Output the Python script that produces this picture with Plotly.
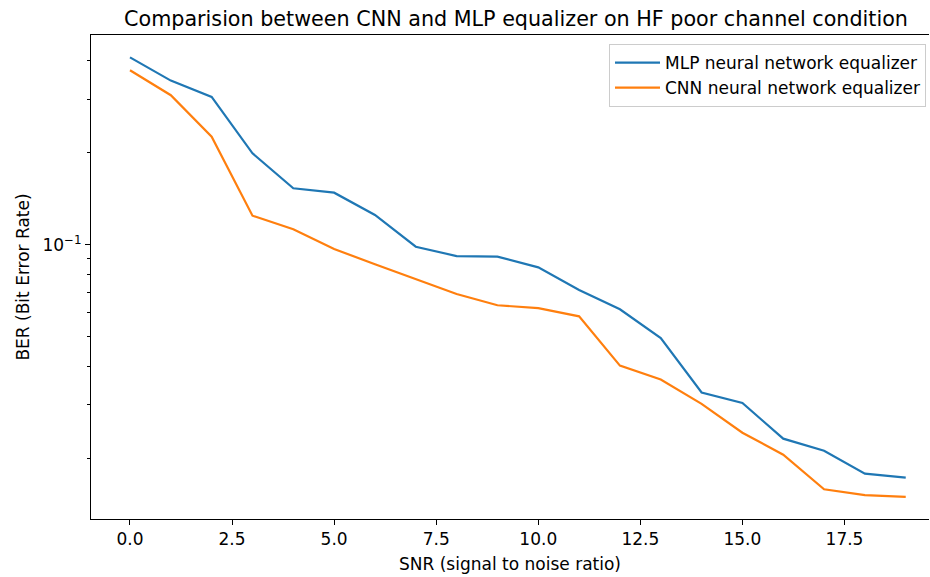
import plotly.graph_objects as go

snr = list(range(20))
mlp_ber = [0.411, 0.345, 0.305, 0.1995, 0.1533, 0.1483, 0.1254, 0.0987, 0.0920, 0.0916,
           0.0845, 0.0712, 0.0616, 0.0496, 0.0329, 0.0304, 0.02324, 0.02123, 0.01785, 0.01732]
cnn_ber = [0.373, 0.309, 0.2262, 0.1247, 0.1126, 0.0970, 0.0865, 0.0774, 0.0691, 0.0635,
           0.0621, 0.0584, 0.0403, 0.0363, 0.0302, 0.0243, 0.0206, 0.01587, 0.0152, 0.0150]

x_tickvals = [0, 2.5, 5, 7.5, 10, 12.5, 15, 17.5]
x_ticktext = ["0.0", "2.5", "5.0", "7.5", "10.0", "12.5", "15.0", "17.5"]
y_major = [0.1]
y_major_text = ["10<sup>\u22121</sup>"]
y_minor = [0.02, 0.03, 0.04, 0.05, 0.06, 0.07, 0.08, 0.09, 0.2, 0.3, 0.4]

FONT = "DejaVu Sans"

fig = go.Figure()
fig.add_trace(go.Scatter(x=snr, y=mlp_ber, mode="lines", name="MLP neural network equalizer",
                         line=dict(color="#1f77b4", width=2.2)))
fig.add_trace(go.Scatter(x=snr, y=cnn_ber, mode="lines", name="CNN neural network equalizer",
                         line=dict(color="#ff7f0e", width=2.2)))

fig.update_layout(
    width=930, height=577,
    margin=dict(l=91, r=1, t=35, b=58),
    paper_bgcolor="white", plot_bgcolor="white",
    font=dict(family=FONT, size=17, color="black"),
    title=dict(text="Comparision between CNN and MLP equalizer on HF poor channel condition",
               x=516 / 930, xanchor="center", y=1 - 19 / 577, yanchor="middle",
               font=dict(size=20.7, family=FONT, color="black")),
    showlegend=True,
    legend=dict(x=(609 - 91) / 838, y=(519 - 44) / 484, xanchor="left", yanchor="top",
                bgcolor="rgba(255,255,255,0.8)", bordercolor="#cccccc", borderwidth=1,
                itemwidth=45,
                font=dict(size=17, family=FONT)),
)
fig.update_xaxes(
    range=[-0.955, 19.57], showgrid=False, zeroline=False,
    showline=True, linecolor="black", linewidth=1, mirror=True,
    ticks="outside", ticklen=5, tickcolor="black",
    tickmode="array", tickvals=x_tickvals, ticktext=x_ticktext,
    tickfont=dict(size=17),
    title=dict(text="SNR (signal to noise ratio)", standoff=9, font=dict(size=17)),
)
fig.update_yaxes(
    type="log", range=[-1.8966, -0.313], showgrid=False, zeroline=False,
    showline=True, linecolor="black", linewidth=1, mirror=False,
    ticks="outside", ticklen=5, tickcolor="black",
    tickmode="array", tickvals=y_major, ticktext=y_major_text,
    tickfont=dict(size=17),
    minor=dict(tickmode="array", tickvals=y_minor, ticks="outside", ticklen=3,
               tickcolor="black", showgrid=False),
    title=dict(text="BER (Bit Error Rate)", standoff=8, font=dict(size=17)),
)

fig.write_html("out.html")
